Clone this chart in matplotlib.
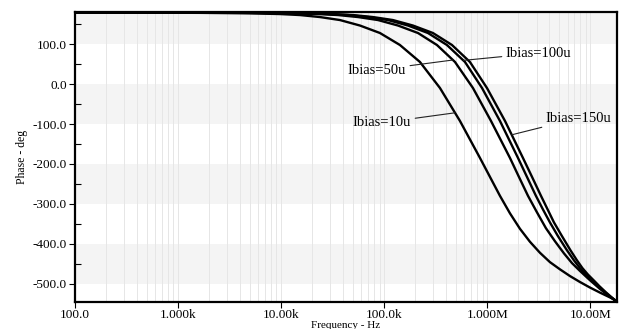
# Phase vs frequency for four bias currents (Bode phase plot)

import matplotlib
matplotlib.use('Agg')
import matplotlib.pyplot as plt
from matplotlib.ticker import FixedLocator, NullFormatter, LogLocator

plt.rcParams['font.family'] = ['Liberation Serif', 'DejaVu Serif']

# log10(frequency in Hz) and phase (deg)
lf_10u = [2.000, 3.212, 3.697, 3.988, 4.182, 4.376, 4.570, 4.764, 4.958, 5.152,
          5.346, 5.540, 5.734, 5.928, 6.025, 6.122, 6.219, 6.316, 6.413, 6.510,
          6.607, 6.704, 6.801, 6.898, 6.995, 7.092, 7.189, 7.257]
ph_10u = [178.7, 177.9, 176.7, 174.9, 172.4, 167.4, 159.9, 146.2, 127.5, 97.5,
          55.1, -9.9, -92.3, -184.7, -232.1, -279.5, -323.2, -361.9, -394.4, -421.9,
          -445.3, -463.3, -480.1, -495.0, -508.8, -521.5, -533.5, -543.0]

lf_50u = [2.000, 3.600, 4.085, 4.357, 4.551, 4.745, 4.939, 5.133, 5.327, 5.511,
          5.686, 5.860, 6.035, 6.219, 6.306, 6.394, 6.481, 6.568, 6.656, 6.743,
          6.821, 6.898, 6.995, 7.092, 7.170, 7.257]
ph_50u = [178.7, 177.9, 176.7, 174.9, 172.4, 167.4, 159.9, 146.2, 127.5, 97.5,
          55.1, -9.9, -92.3, -184.7, -232.1, -279.5, -320.7, -360.4, -393.2, -423.4,
          -447.8, -467.3, -490.5, -512.3, -528.0, -544.2]

lf_100u = [2.000, 3.794, 4.279, 4.454, 4.648, 4.842, 5.036, 5.230, 5.424, 5.608,
           5.783, 5.948, 6.122, 6.297, 6.384, 6.471, 6.539, 6.607, 6.685, 6.772,
           6.840, 6.898, 6.956, 7.015, 7.073, 7.141, 7.199, 7.257]
ph_100u = [178.7, 177.9, 176.7, 174.9, 172.4, 167.4, 159.9, 146.2, 127.5, 97.5,
           55.1, -9.9, -92.3, -184.7, -232.1, -279.5, -313.5, -346.0, -380.4, -415.6,
           -440.8, -460.3, -476.5, -491.5, -505.5, -520.8, -533.0, -544.4]

lf_150u = [2.000, 3.843, 4.328, 4.502, 4.696, 4.890, 5.084, 5.278, 5.472, 5.657,
           5.831, 5.996, 6.171, 6.345, 6.433, 6.520, 6.646, 6.724, 6.806, 6.869,
           6.922, 6.976, 7.034, 7.087, 7.150, 7.204, 7.257]
ph_150u = [178.7, 177.9, 176.7, 174.9, 172.4, 167.4, 159.9, 146.2, 127.5, 97.5,
           55.1, -9.9, -92.3, -184.7, -232.1, -279.5, -346.0, -380.4, -415.6, -440.8,
           -460.3, -476.5, -491.5, -505.5, -520.8, -533.0, -544.4]

xtick_vals = [1e2, 1e3, 1e4, 1e5, 1e6, 1e7]
xtick_labels = ['100.0', '1.000k', '10.00k', '100.0k', '1.000M', '10.00M']
ytick_vals = [100, 0, -100, -200, -300, -400, -500]
ytick_labels = ['100.0', '0.0', '-100.0', '-200.0', '-300.0', '-400.0', '-500.0']

fig = plt.figure(figsize=(6.24, 3.29), dpi=100)
ax = fig.add_axes([0.1202, 0.0821, 0.8686, 0.8814])

ax.set_xscale('log')
ax.set_xlim(100, 18.1e6)
ax.set_ylim(-545, 180)

# alternating bands
band_edges = [180, 100, 0, -100, -200, -300, -400, -500, -545]
for i in range(len(band_edges) - 1):
    if i % 2 == 0:
        ax.axhspan(band_edges[i + 1], band_edges[i], color='#f4f4f4', lw=0, zorder=0)

ax.xaxis.set_minor_locator(LogLocator(base=10, subs=range(2, 10)))
ax.xaxis.set_minor_formatter(NullFormatter())
ax.grid(True, which='both', axis='x', color='#e6e6e6', lw=0.7, zorder=1)

for lf, ph in [(lf_10u, ph_10u), (lf_50u, ph_50u), (lf_100u, ph_100u), (lf_150u, ph_150u)]:
    ax.plot([10 ** v for v in lf], ph, color='black', lw=1.7, zorder=3)

ax.xaxis.set_major_locator(FixedLocator(xtick_vals))
ax.set_xticklabels(xtick_labels, fontsize=9.5)
ax.set_yticks(ytick_vals)
ax.set_yticklabels(ytick_labels, fontsize=9.5)
ax.yaxis.set_minor_locator(FixedLocator([150, 50, -50, -150, -250, -350, -450]))
ax.tick_params(axis='both', which='major', direction='out', length=4, width=0.8, pad=2)
ax.tick_params(axis='x', which='major', pad=1)
ax.tick_params(axis='y', which='minor', direction='in', length=4, width=0.8)
ax.tick_params(axis='x', which='minor', length=0)

for s in ax.spines.values():
    s.set_linewidth(1.6)

ax.set_xlabel('Frequency - Hz', fontsize=8, labelpad=0)
ax.set_ylabel('Phase - deg', fontsize=8.5, labelpad=3)

lab = dict(fontsize=10.5, va='center', arrowprops=dict(arrowstyle='-', lw=0.8, color='#222222', shrinkA=1, shrinkB=0))
ax.annotate('Ibias=10u', xy=(10 ** 5.686, -72), xytext=(10 ** 5.26, -97), ha='right', **lab)
ax.annotate('Ibias=50u', xy=(10 ** 5.666, 60), xytext=(10 ** 5.21, 35), ha='right', **lab)
ax.annotate('Ibias=100u', xy=(10 ** 5.767, 59), xytext=(10 ** 6.18, 77.5), ha='left', **lab)
ax.annotate('Ibias=150u', xy=(10 ** 6.237, -127), xytext=(10 ** 6.568, -85), ha='left', **lab)

fig.savefig('out.png', dpi=100)
